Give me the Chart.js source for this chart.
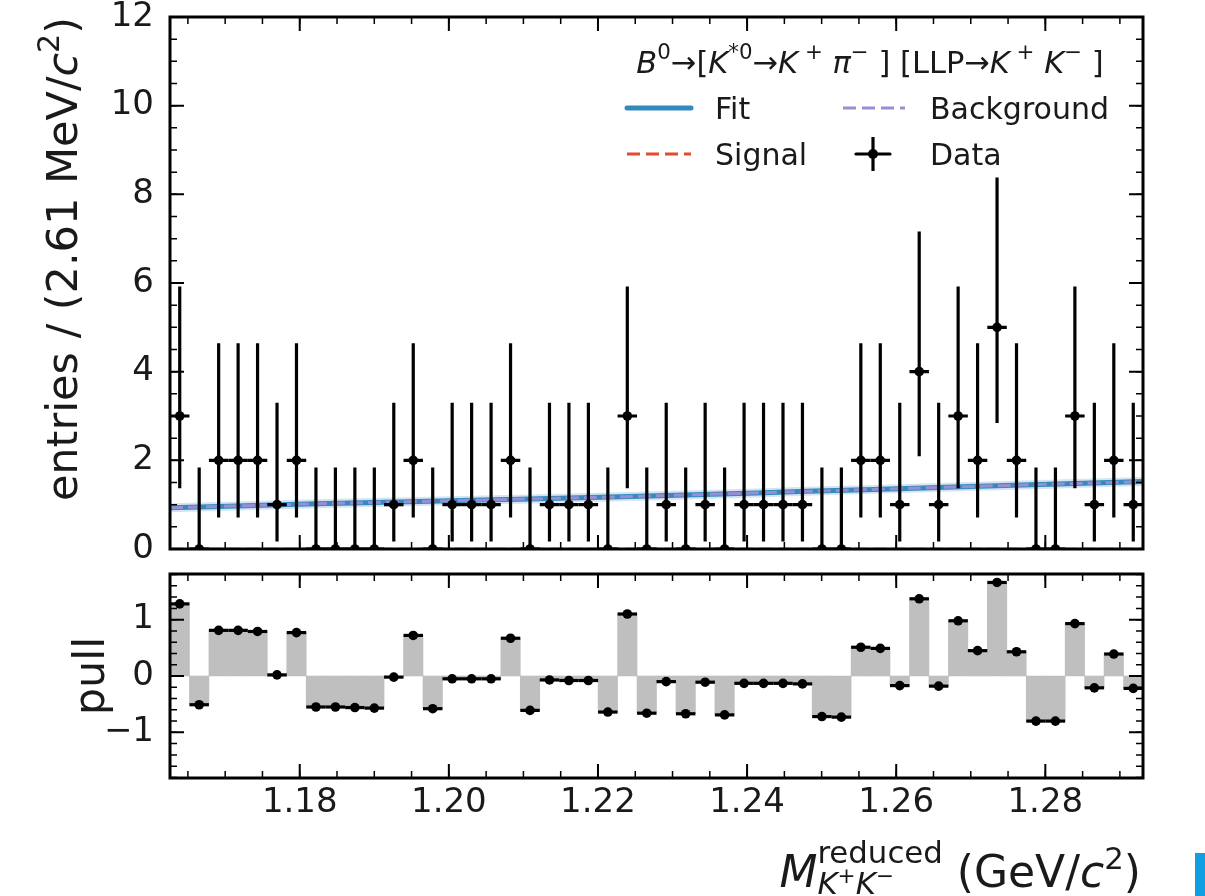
<!DOCTYPE html>
<html>
<head>
<meta charset="utf-8">
<script src="https://cdn.jsdelivr.net/npm/chart.js@4.4.1/dist/chart.umd.min.js"></script>
<style>
body { margin: 0; background: #fff; }
#wrap { position: relative; width: 1205px; height: 896px; overflow: hidden; }
#wrap canvas { position: absolute; left: 0; }
#top { top: 0; }
#bot { top: 560px; }
#corner { position: absolute; left: 1195px; top: 853px; width: 10px; height: 43px; background: #0f9fe0; }
</style>
</head>
<body>
<div id="wrap">
  <canvas id="top" width="1205" height="560"></canvas>
  <canvas id="bot" width="1205" height="336"></canvas>
  <div id="corner"></div>
</div>
<script>
Chart.defaults.font.family = "'DejaVu Sans', sans-serif";
Chart.defaults.color = '#1a1a1a';

// binning: 50 bins of 2.61 MeV
var binStart = 1.1626;
var binWidth = 0.00261;

var counts = [3,0,2,2,2,1,2,0,0,0, 0,1,2,0,1,1,1,2,0,1,
              1,1,0,3,0,1,0,1,0,1, 1,1,1,0,0,2,2,1,4,1,
              3,2,5,2,0,0,3,1,2,1];
// asymmetric poisson errors
var errLo = [1.63,0,1.29,1.29,1.29,0.83,1.29,0,0,0, 0,0.83,1.29,0,0.83,0.83,0.83,1.29,0,0.83,
             0.83,0.83,0,1.63,0,0.83,0,0.83,0,0.83, 0.83,0.83,0.83,0,0,1.29,1.29,0.83,1.91,0.83,
             1.63,1.29,2.16,1.29,0,0,1.63,0.83,1.29,0.83];
var errHi = [2.92,1.84,2.64,2.64,2.64,2.30,2.64,1.84,1.84,1.84, 1.84,2.30,2.64,1.84,2.30,2.30,2.30,2.64,1.84,2.30,
             2.30,2.30,1.84,2.92,1.84,2.30,1.84,2.30,1.84,2.30, 2.30,2.30,2.30,1.84,1.84,2.64,2.64,2.30,3.16,2.30,
             2.92,2.64,3.38,2.64,1.84,1.84,2.92,2.30,2.64,2.30];
var pulls = [1.28,-0.51,0.81,0.81,0.79,0.02,0.77,-0.55,-0.55,-0.56, -0.57,-0.02,0.72,-0.58,-0.05,-0.05,-0.05,0.67,-0.61,-0.07,
             -0.08,-0.08,-0.64,1.10,-0.66,-0.10,-0.67,-0.11,-0.69,-0.13, -0.13,-0.13,-0.14,-0.72,-0.73,0.51,0.49,-0.17,1.37,-0.18,
             0.98,0.45,1.66,0.43,-0.80,-0.80,0.93,-0.21,0.39,-0.22];

// fit components
var curveX = [1.1626, 1.1822, 1.2060, 1.2257, 1.2480, 1.2700, 1.2931];
var fitY   = [0.93, 1.02, 1.11, 1.19, 1.30, 1.41, 1.52];
var bkgY   = [0.93, 1.02, 1.11, 1.19, 1.30, 1.41, 1.52];
var sigY   = [0, 0, 0, 0, 0, 0, 0];

var xTicks = [1.18, 1.20, 1.22, 1.24, 1.26, 1.28];
var yTicks = [0, 2, 4, 6, 8, 10, 12];
var pullTicks = [-1, 0, 1];

var centers = counts.map(function(c, i) { return binStart + (i + 0.5) * binWidth; });
var xMin = binStart;
var xMax = binStart + counts.length * binWidth;

function pts(xs, ys) { return xs.map(function(x, i) { return {x: x, y: ys[i]}; }); }

// draw text made of pieces (italic / super / subscript)
function richText(ctx, segs, x, y, size, align) {
  var items = [], cx = 0, mark = 0, maxX = 0;
  segs.forEach(function(g) {
    var s = g.s || 1;
    var f = (g.i ? 'italic ' : '') + (size * s) + "px 'DejaVu Sans'";
    ctx.font = f;
    if (g.m) mark = cx;
    if (g.r) cx = mark;
    if (g.x) cx = maxX;
    var w = ctx.measureText(g.t).width;
    items.push({t: g.t, f: f, x: cx, dy: (g.d || 0) * size});
    cx += w;
    maxX = Math.max(maxX, cx);
  });
  var off = align === 'right' ? -maxX : (align === 'center' ? -maxX / 2 : 0);
  ctx.textAlign = 'left';
  ctx.textBaseline = 'alphabetic';
  items.forEach(function(it) {
    ctx.font = it.f;
    ctx.fillText(it.t, x + off + it.x, y - it.dy);
  });
}

function makeFrame(xStep, xMinor, yStep, yMinor) {
  return {
    id: 'frame',
    afterDraw: function(chart) {
      var ctx = chart.ctx, a = chart.chartArea, sx = chart.scales.x, sy = chart.scales.y;
      ctx.save();
      ctx.strokeStyle = '#000';
      function marks(scale, step, len, lw, horiz) {
        ctx.lineWidth = lw;
        ctx.beginPath();
        var k0 = Math.ceil(scale.min / step - 1e-6), k1 = Math.floor(scale.max / step + 1e-6);
        for (var k = k0; k <= k1; k++) {
          var p = scale.getPixelForValue(k * step);
          if (horiz) {
            ctx.moveTo(p, a.bottom); ctx.lineTo(p, a.bottom - len);
            ctx.moveTo(p, a.top); ctx.lineTo(p, a.top + len);
          } else {
            ctx.moveTo(a.left, p); ctx.lineTo(a.left + len, p);
            ctx.moveTo(a.right, p); ctx.lineTo(a.right - len, p);
          }
        }
        ctx.stroke();
      }
      marks(sx, xMinor, 7, 1.5, true);
      marks(sx, xStep, 14, 2, true);
      marks(sy, yMinor, 7, 1.5, false);
      marks(sy, yStep, 14, 2, false);
      ctx.lineWidth = 3;
      ctx.strokeRect(a.left, a.top, a.right - a.left, a.bottom - a.top);
      ctx.restore();
    }
  };
}

function makeErrorBars(values, lo, hi) {
  return {
    id: 'errorBars',
    beforeDatasetDraw: function(chart, args) {
      if (args.index !== 0) return;
      var ctx = chart.ctx, a = chart.chartArea, sx = chart.scales.x, sy = chart.scales.y;
      ctx.save();
      ctx.beginPath();
      ctx.rect(a.left, a.top, a.right - a.left, a.bottom - a.top);
      ctx.clip();
      ctx.strokeStyle = '#000';
      ctx.lineWidth = 3.2;
      values.forEach(function(v, i) {
        var c = centers[i], py = sy.getPixelForValue(v), px = sx.getPixelForValue(c);
        ctx.beginPath();
        ctx.moveTo(sx.getPixelForValue(c - binWidth / 2), py);
        ctx.lineTo(sx.getPixelForValue(c + binWidth / 2), py);
        if (lo) {
          ctx.moveTo(px, sy.getPixelForValue(v - lo[i]));
          ctx.lineTo(px, sy.getPixelForValue(v + hi[i]));
        }
        ctx.stroke();
      });
      ctx.restore();
    }
  };
}

function hline(ctx, x1, x2, y, color, w, dash) {
  ctx.save();
  ctx.strokeStyle = color;
  ctx.lineWidth = w;
  ctx.setLineDash(dash);
  ctx.lineCap = dash.length ? 'butt' : 'round';
  ctx.beginPath(); ctx.moveTo(x1, y); ctx.lineTo(x2, y); ctx.stroke();
  ctx.restore();
}

var legendTitle = [
  {t: 'B', i: 1}, {t: '0', s: .7, d: .45}, {t: '→['}, {t: 'K', i: 1}, {t: '*0', s: .7, d: .45},
  {t: '→'}, {t: 'K', i: 1}, {t: ' +', s: .7, d: .45}, {t: ' '}, {t: 'π', i: 1}, {t: '−', s: .7, d: .45},
  {t: ' ]'}, {t: ' [LLP→'}, {t: 'K', i: 1}, {t: ' +', s: .7, d: .45}, {t: ' '}, {t: 'K', i: 1},
  {t: '−', s: .7, d: .45}, {t: ' ]'}
];

var topDecor = {
  id: 'topDecor',
  afterDraw: function(chart) {
    var ctx = chart.ctx;
    ctx.save();
    ctx.fillStyle = '#1a1a1a';
    // legend
    richText(ctx, legendTitle, 870, 73, 30.5, 'center');
    var r1 = 108, r2 = 154;
    hline(ctx, 627, 691, r1, '#348ABD', 5, []);
    hline(ctx, 843, 905, r1, '#988ED5', 3, [13, 6]);
    hline(ctx, 627, 691, r2, '#E24A33', 3, [13, 6]);
    hline(ctx, 856, 890, r2, '#000', 3.2, []);
    ctx.strokeStyle = '#000'; ctx.lineWidth = 3.2;
    ctx.beginPath(); ctx.moveTo(873, r2 - 17); ctx.lineTo(873, r2 + 17); ctx.stroke();
    ctx.fillStyle = '#000';
    ctx.beginPath(); ctx.arc(873, r2, 5, 0, 2 * Math.PI); ctx.fill();
    ctx.fillStyle = '#1a1a1a';
    ctx.font = "30px 'DejaVu Sans'";
    ctx.textAlign = 'left'; ctx.textBaseline = 'alphabetic';
    ctx.fillText('Fit', 715, r1 + 11);
    ctx.fillText('Background', 930, r1 + 11);
    ctx.fillText('Signal', 715, r2 + 11);
    ctx.fillText('Data', 930, r2 + 11);
    // y axis title, anchored at the top of the axis
    ctx.translate(77, chart.chartArea.top);
    ctx.rotate(-Math.PI / 2);
    richText(ctx, [{t: 'entries / (2.61 MeV/'}, {t: 'c', i: 1}, {t: '2', s: .7, d: .42}, {t: ')'}], 0, 0, 43, 'right');
    ctx.restore();
  }
};

var botDecor = {
  id: 'botDecor',
  afterDraw: function(chart) {
    var ctx = chart.ctx, a = chart.chartArea;
    ctx.save();
    ctx.fillStyle = '#1a1a1a';
    richText(ctx, [
      {t: 'M', i: 1}, {t: 'reduced', s: .7, d: .55, m: 1},
      {t: 'K', i: 1, s: .7, d: -.17, r: 1}, {t: '+', s: .49, d: .08},
      {t: 'K', i: 1, s: .7, d: -.17}, {t: '−', s: .49, d: .08},
      {t: ' (GeV/', x: 1}, {t: 'c', i: 1}, {t: '2', s: .7, d: .42}, {t: ')'}
    ], a.right - 2, 327, 44, 'right');
    ctx.translate(104, (a.top + a.bottom) / 2);
    ctx.rotate(-Math.PI / 2);
    richText(ctx, [{t: 'pull'}], 0, 0, 43, 'center');
    ctx.restore();
  }
};

function minus(v) { return v < 0 ? '\u2212' + Math.abs(v) : String(v); }

// keep the y scale from reserving extra room for its end labels
function fixY(s) { s.width = 170; s.paddingTop = 0; s.paddingBottom = 0; }

new Chart(document.getElementById('top'), {
  type: 'scatter',
  data: {
    datasets: [
      {label: 'Data', data: pts(centers, counts), pointRadius: 4.8, pointBackgroundColor: '#000',
       pointBorderWidth: 0, showLine: false, clip: 0},
      {label: 'Signal', type: 'line', data: pts(curveX, sigY), borderColor: '#E24A33', borderWidth: 2.5,
       borderDash: [13, 6], pointRadius: 0, fill: false},
      {label: 'Background', type: 'line', data: pts(curveX, bkgY), borderColor: '#988ED5', borderWidth: 3,
       borderDash: [13, 5], pointRadius: 0, fill: false, cubicInterpolationMode: 'monotone'},
      {label: 'Fit', type: 'line', data: pts(curveX, fitY), borderColor: '#348ABD', borderWidth: 5,
       pointRadius: 0, fill: false, cubicInterpolationMode: 'monotone'},
      {label: 'Fit band', type: 'line', data: pts(curveX, fitY), borderColor: 'rgba(52,138,189,0.22)', borderWidth: 9,
       pointRadius: 0, fill: false, cubicInterpolationMode: 'monotone'}
    ]
  },
  options: {
    responsive: false,
    animation: false,
    events: [],
    layout: {autoPadding: false, padding: {left: 0, right: 62, top: 17, bottom: 11}},
    scales: {
      x: {type: 'linear', min: xMin, max: xMax, display: false},
      y: {
        min: 0, max: 12,
        afterBuildTicks: function(s) { s.ticks = yTicks.map(function(v) { return {value: v}; }); },
        afterFit: fixY,
        grid: {display: false, drawTicks: false},
        border: {display: false},
        ticks: {font: {size: 34}, padding: 16, color: '#1a1a1a'}
      }
    },
    plugins: {legend: {display: false}, tooltip: {enabled: false}}
  },
  plugins: [makeErrorBars(counts, errLo, errHi), topDecor, makeFrame(0.02, 0.005, 2, 0.5)]
});

new Chart(document.getElementById('bot'), {
  type: 'bar',
  data: {
    datasets: [
      {type: 'scatter', label: 'pull', data: pts(centers, pulls), pointRadius: 4.8, pointBackgroundColor: '#000',
       pointBorderWidth: 0, showLine: false, clip: 0},
      {type: 'bar', label: 'pull bars', data: pts(centers, pulls), backgroundColor: '#bfbfbf', borderWidth: 0,
       barPercentage: 1, categoryPercentage: 1}
    ]
  },
  options: {
    responsive: false,
    animation: false,
    events: [],
    layout: {autoPadding: false, padding: {left: 0, right: 62, top: 14, bottom: 0}},
    scales: {
      x: {
        type: 'linear', min: xMin, max: xMax, offset: false,
        afterBuildTicks: function(s) { s.ticks = xTicks.map(function(v) { return {value: v}; }); },
        afterFit: function(s) { s.height = 118; s.paddingLeft = 0; s.paddingRight = 0; },
        grid: {display: false, drawTicks: false, offset: false},
        border: {display: false},
        ticks: {font: {size: 34}, padding: 5, color: '#1a1a1a', autoSkip: false, maxRotation: 0,
                callback: function(v) { return Number(v).toFixed(2); }}
      },
      y: {
        min: -1.81, max: 1.81,
        afterBuildTicks: function(s) { s.ticks = pullTicks.map(function(v) { return {value: v}; }); },
        afterFit: fixY,
        grid: {display: false, drawTicks: false},
        border: {display: false},
        ticks: {font: {size: 34}, padding: 16, color: '#1a1a1a', callback: function(v) { return minus(v); }}
      }
    },
    plugins: {legend: {display: false}, tooltip: {enabled: false}}
  },
  plugins: [makeErrorBars(pulls, null, null), botDecor, makeFrame(0.02, 0.005, 1, 0.2)]
});
</script>
</body>
</html>
